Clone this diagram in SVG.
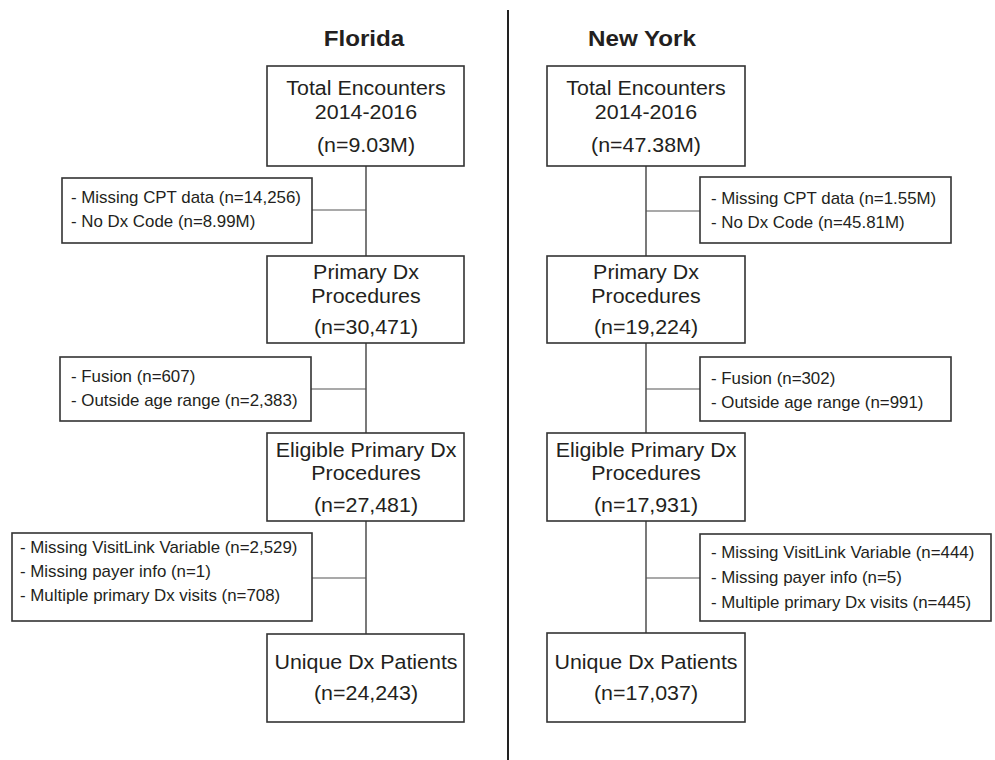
<svg xmlns="http://www.w3.org/2000/svg" width="995" height="760" viewBox="0 0 995 760">
<style>
.box{fill:#fff;stroke:#333;stroke-width:1.6}
.main{font-family:"Liberation Sans",Arial,sans-serif;font-size:20px;fill:#231f20;text-anchor:middle}
.small{font-family:"Liberation Sans",Arial,sans-serif;font-size:16px;fill:#231f20}
.title{font-family:"Liberation Sans",Arial,sans-serif;font-size:22px;font-weight:bold;fill:#231f20;text-anchor:middle}
.v{stroke:#333;stroke-width:1.3;fill:none}
.h{stroke:#555;stroke-width:1.1;fill:none}
.div{stroke:#222;stroke-width:2}
</style>
<rect width="995" height="760" fill="#fff"/>
<line class="div" x1="508" y1="10" x2="508" y2="760"/>
<g id="connectors">
<path class="v" d="M366 166V256M366 343V433M366 521V634"/>
<path class="h" d="M312 210H366M311 389H366M312 578H366"/>
<path class="v" d="M646 166V256M646 343V433M646 521V634"/>
<path class="h" d="M646 211H700M646 389H700M646 578H700"/>
</g>
<g id="title-fl"><text class="title" transform="matrix(1.1 0 0 1 364 0)" x="0" y="46">Florida</text></g>
<g id="title-ny"><text class="title" transform="matrix(1.1 0 0 1 642 0)" x="0" y="46">New York</text></g>
<g id="fl-total"><rect class="box" x="267" y="66" width="197" height="100"/>
<text class="main" transform="matrix(1.07 0 0 1 366 0)"><tspan x="0" y="95">Total Encounters</tspan><tspan x="0" y="119">2014-2016</tspan><tspan x="0" y="152">(n=9.03M)</tspan></text></g>
<g id="fl-excl1"><rect class="box" x="62" y="178" width="250" height="65"/>
<text class="small" transform="matrix(1.055 0 0 1 71 0)"><tspan x="0" y="203">- Missing CPT data (n=14,256)</tspan><tspan x="0" y="227">- No Dx Code (n=8.99M)</tspan></text></g>
<g id="fl-primary"><rect class="box" x="267" y="256" width="197" height="87"/>
<text class="main" transform="matrix(1.07 0 0 1 366 0)"><tspan x="0" y="279">Primary Dx</tspan><tspan x="0" y="303">Procedures</tspan><tspan x="0" y="334">(n=30,471)</tspan></text></g>
<g id="fl-excl2"><rect class="box" x="60" y="357" width="251" height="64"/>
<text class="small" transform="matrix(1.055 0 0 1 71 0)"><tspan x="0" y="382">- Fusion (n=607)</tspan><tspan x="0" y="406">- Outside age range (n=2,383)</tspan></text></g>
<g id="fl-eligible"><rect class="box" x="267" y="433" width="197" height="88"/>
<text class="main" transform="matrix(1.07 0 0 1 366 0)"><tspan x="0" y="457">Eligible Primary Dx</tspan><tspan x="0" y="480">Procedures</tspan><tspan x="0" y="512">(n=27,481)</tspan></text></g>
<g id="fl-excl3"><rect class="box" x="12" y="533" width="300" height="88"/>
<text class="small" transform="matrix(1.055 0 0 1 20 0)"><tspan x="0" y="553">- Missing VisitLink Variable (n=2,529)</tspan><tspan x="0" y="577">- Missing payer info (n=1)</tspan><tspan x="0" y="601">- Multiple primary Dx visits (n=708)</tspan></text></g>
<g id="fl-unique"><rect class="box" x="267" y="634" width="197" height="88"/>
<text class="main" transform="matrix(1.07 0 0 1 366 0)"><tspan x="0" y="669">Unique Dx Patients</tspan><tspan x="0" y="700">(n=24,243)</tspan></text></g>
<g id="ny-total"><rect class="box" x="547" y="66" width="198" height="100"/>
<text class="main" transform="matrix(1.07 0 0 1 646 0)"><tspan x="0" y="95">Total Encounters</tspan><tspan x="0" y="119">2014-2016</tspan><tspan x="0" y="152">(n=47.38M)</tspan></text></g>
<g id="ny-excl1"><rect class="box" x="700" y="177" width="251" height="66"/>
<text class="small" transform="matrix(1.055 0 0 1 711 0)"><tspan x="0" y="204">- Missing CPT data (n=1.55M)</tspan><tspan x="0" y="228">- No Dx Code (n=45.81M)</tspan></text></g>
<g id="ny-primary"><rect class="box" x="547" y="256" width="198" height="87"/>
<text class="main" transform="matrix(1.07 0 0 1 646 0)"><tspan x="0" y="279">Primary Dx</tspan><tspan x="0" y="303">Procedures</tspan><tspan x="0" y="334">(n=19,224)</tspan></text></g>
<g id="ny-excl2"><rect class="box" x="700" y="357" width="251" height="64"/>
<text class="small" transform="matrix(1.055 0 0 1 711 0)"><tspan x="0" y="384">- Fusion (n=302)</tspan><tspan x="0" y="408">- Outside age range (n=991)</tspan></text></g>
<g id="ny-eligible"><rect class="box" x="547" y="433" width="198" height="88"/>
<text class="main" transform="matrix(1.07 0 0 1 646 0)"><tspan x="0" y="457">Eligible Primary Dx</tspan><tspan x="0" y="480">Procedures</tspan><tspan x="0" y="512">(n=17,931)</tspan></text></g>
<g id="ny-excl3"><rect class="box" x="700" y="534" width="291" height="87"/>
<text class="small" transform="matrix(1.055 0 0 1 711 0)"><tspan x="0" y="558">- Missing VisitLink Variable (n=444)</tspan><tspan x="0" y="583">- Missing payer info (n=5)</tspan><tspan x="0" y="608">- Multiple primary Dx visits (n=445)</tspan></text></g>
<g id="ny-unique"><rect class="box" x="547" y="633" width="198" height="89"/>
<text class="main" transform="matrix(1.07 0 0 1 646 0)"><tspan x="0" y="669">Unique Dx Patients</tspan><tspan x="0" y="700">(n=17,037)</tspan></text></g>
</svg>
